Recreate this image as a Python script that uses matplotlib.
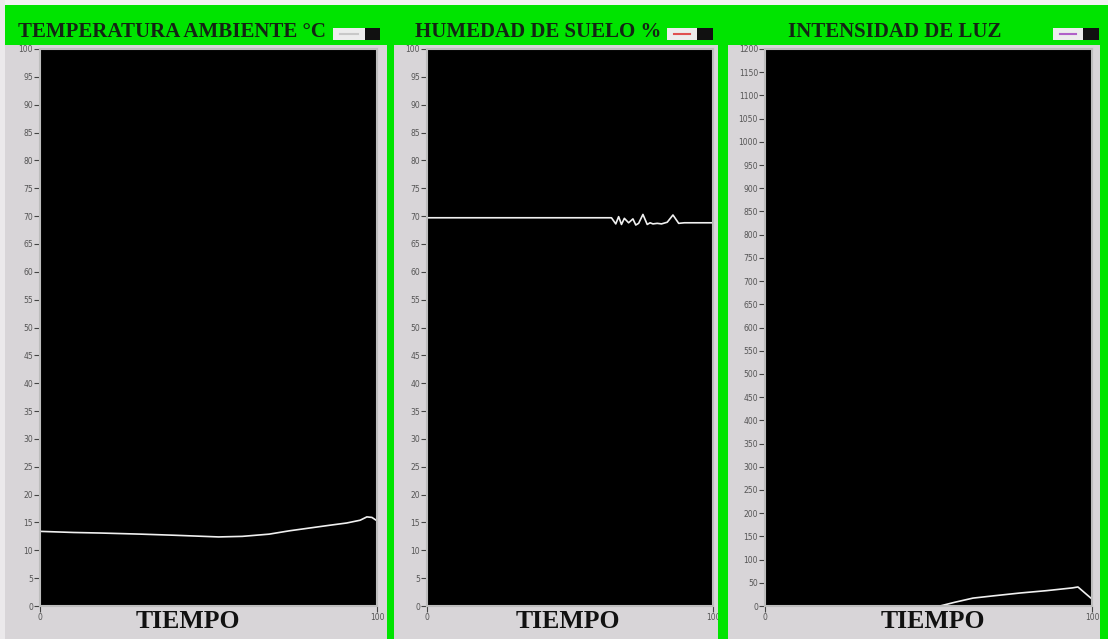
import numpy as np
import matplotlib
matplotlib.use('Agg')
import matplotlib.pyplot as plt
from matplotlib.patches import Rectangle

# data (x = tiempo 0..100)
temp_x = [0, 10, 18, 30, 40, 53, 60, 68, 74, 80, 86, 91, 95, 97, 98.5, 100]
temp_y = [13.4, 13.2, 13.1, 12.9, 12.7, 12.4, 12.5, 12.9, 13.5, 14.0, 14.5, 14.9, 15.4, 16.0, 15.9, 15.3]

hum_x = [0, 20, 40, 60, 64.5, 66, 67, 68, 69, 70.5, 72, 73, 74, 75.5, 77, 78, 79, 80.5, 82, 84, 86, 88, 90, 95, 100]
hum_y = [69.7, 69.7, 69.7, 69.7, 69.7, 68.6, 69.9, 68.5, 69.6, 68.8, 69.5, 68.4, 68.7, 70.3, 68.5, 68.8, 68.6, 68.7, 68.6, 68.9, 70.2, 68.7, 68.8, 68.8, 68.8]

luz_x = [0, 20, 40, 53.5, 58, 63.6, 70, 78, 86, 94, 95.7, 98.5, 100]
luz_y = [0, 0, 0, 0, 8, 17, 22, 28, 33, 39, 41, 24, 15]

titles = ['TEMPERATURA AMBIENTE °C', 'HUMEDAD DE SUELO %', 'INTENSIDAD DE LUZ']
ymax = [100, 100, 1200]
ystep = [5, 5, 50]

W, H = 1108, 639
GREEN = '#00e400'
GRAY = '#d8d5d8'

fig = plt.figure(figsize=(W / 100, H / 100), dpi=100, facecolor=GRAY)


def frect(x0, y0, x1, y1):
    return [x0 / W, 1 - y1 / H, (x1 - x0) / W, (y1 - y0) / H]


def box(x0, y0, x1, y1, color, **kw):
    fig.patches.append(Rectangle((x0 / W, 1 - y1 / H), (x1 - x0) / W, (y1 - y0) / H,
                                 transform=fig.transFigure, facecolor=color,
                                 edgecolor='none', **kw))


# green frames
box(0, 0, W, 5, '#f2f2f2')
box(0, 0, 5, H, '#ebe9eb')
box(5, 5, 1104, 45, GREEN)
box(387, 5, 394, H, GREEN)
box(718, 5, 728, H, GREEN)
box(1100, 5, 1108, H, GREEN)

# plot areas (pixels)
plots = [(40, 49, 377, 606), (427, 49, 713, 606), (765, 49, 1092, 606)]
series = [(temp_x, temp_y), (hum_x, hum_y), (luz_x, luz_y)]
title_x = [172, 538, 895]
tiempo_x = [188, 568, 933]
legends = [(333, 365, 380, '#c8c8c8'), (667, 697, 713, '#e05050'), (1053, 1083, 1099, '#b060c8')]

for i in range(3):
    x0, y0, x1, y1 = plots[i]
    ax = fig.add_axes(frect(x0, y0, x1, y1))
    ax.set_facecolor('black')
    ax.plot(series[i][0], series[i][1], color='#f0f0f0', lw=1.2)
    ax.set_xlim(0, 100)
    ax.set_ylim(0, ymax[i])
    ax.set_yticks(np.arange(0, ymax[i] + 1, ystep[i]))
    ax.set_xticks([0, 100])
    ax.tick_params(axis='both', labelsize=5.5, labelcolor='#555555', color='#444444',
                   length=4, width=0.8, pad=1)
    for s in ax.spines.values():
        s.set_color('#bdbdbd')
        s.set_linewidth(1.5)

    fig.text(title_x[i] / W, 1 - 32 / H, titles[i], ha='center', va='center',
             family='Liberation Serif', weight='bold', fontsize=15, color='#142414')
    fig.text(tiempo_x[i] / W, 1 - 622 / H, 'TIEMPO', ha='center', va='center',
             family='Liberation Serif', weight='bold', fontsize=18.5, color='#111111')

    lx0, lx1, lx2, lc = legends[i]
    box(lx0, 28, lx1, 40, '#ececec')
    box(lx1, 28, lx2, 40, '#111111')
    fig.lines.append(plt.Line2D([(lx0 + 7) / W, (lx1 - 7) / W], [1 - 34 / H, 1 - 34 / H],
                                transform=fig.transFigure, color=lc, lw=1.5))

fig.savefig('out.png', dpi=100, facecolor=fig.get_facecolor())
